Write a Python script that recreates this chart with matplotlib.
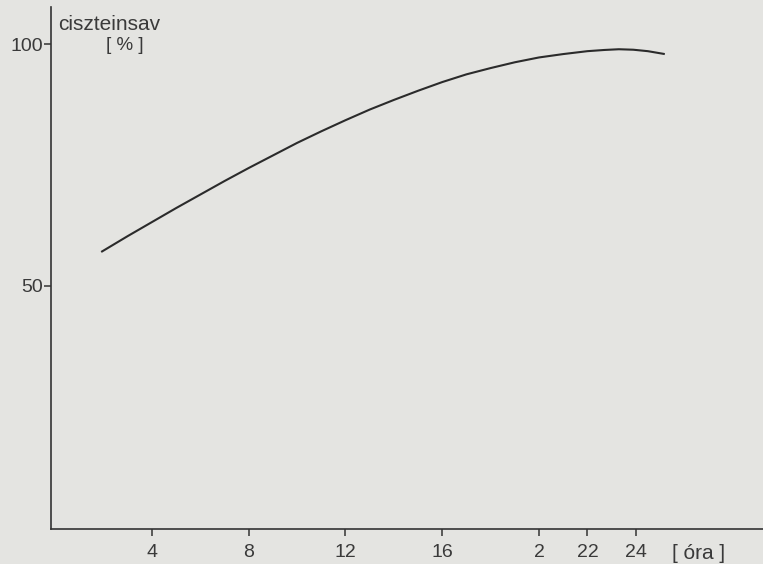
import matplotlib.pyplot as plt

# reaction time (hours) vs cysteic acid yield (%)
hours = [1.9, 3, 4, 5, 6, 7, 8, 9, 10, 11, 12, 13, 14, 15, 16, 17, 18, 19, 20, 21, 22,
         22.7, 23.3, 23.9, 24.5, 25.2]
yield_pct = [57.0, 60.3, 63.2, 66.1, 68.9, 71.7, 74.4, 77.0, 79.6, 82.0, 84.3, 86.5, 88.5,
             90.4, 92.2, 93.8, 95.1, 96.3, 97.3, 98.0, 98.6, 98.85, 99.0, 98.9, 98.6, 98.0]

x_ticks = [4, 8, 12, 16, 20, 22, 24]
x_labels = ['4', '8', '12', '16', '2', '22', '24']
y_ticks = [50, 100]
y_labels = ['50', '100']

bg = '#e4e4e1'
ink = '#333333'
txt = '#3a3a3a'

plt.rcParams['font.family'] = ['Liberation Sans', 'DejaVu Sans']

fig = plt.figure(figsize=(7.63, 5.64), dpi=100, facecolor=bg)
ax = fig.add_axes([0.067, 0.062, 0.933, 0.926], facecolor=bg)

ax.plot(hours, yield_pct, color='#2b2b2b', lw=1.5, solid_capstyle='butt',
        solid_joinstyle='round')

ax.set_xlim(-0.17, 29.26)
ax.set_ylim(-0.4, 107.8)

for side in ['top', 'right']:
    ax.spines[side].set_visible(False)
for side in ['left', 'bottom']:
    ax.spines[side].set_color(ink)
    ax.spines[side].set_linewidth(1.2)

ax.set_xticks(x_ticks)
ax.set_xticklabels(x_labels)
ax.set_yticks(y_ticks)
ax.set_yticklabels(y_labels)
ax.tick_params(axis='both', direction='out', length=5, width=1.1, color=ink,
               labelcolor=txt, labelsize=14)
ax.tick_params(axis='x', pad=5.5)
ax.tick_params(axis='y', pad=1)

ax.text(0.01, 0.985, 'ciszteinsav', transform=ax.transAxes, ha='left', va='top',
        fontsize=15, color=txt)
ax.text(0.103, 0.925, '[ % ]', transform=ax.transAxes, ha='center', va='center',
        fontsize=13.5, color=txt)
# unit label sits on the tick-label row
ax.annotate('[ óra ]', xy=(25.5, 0), xycoords=('data', 'axes fraction'),
            xytext=(0, -10.5), textcoords='offset points', ha='left', va='top',
            fontsize=15, color=txt, annotation_clip=False)

plt.savefig('out.png', dpi=100, facecolor=bg)
